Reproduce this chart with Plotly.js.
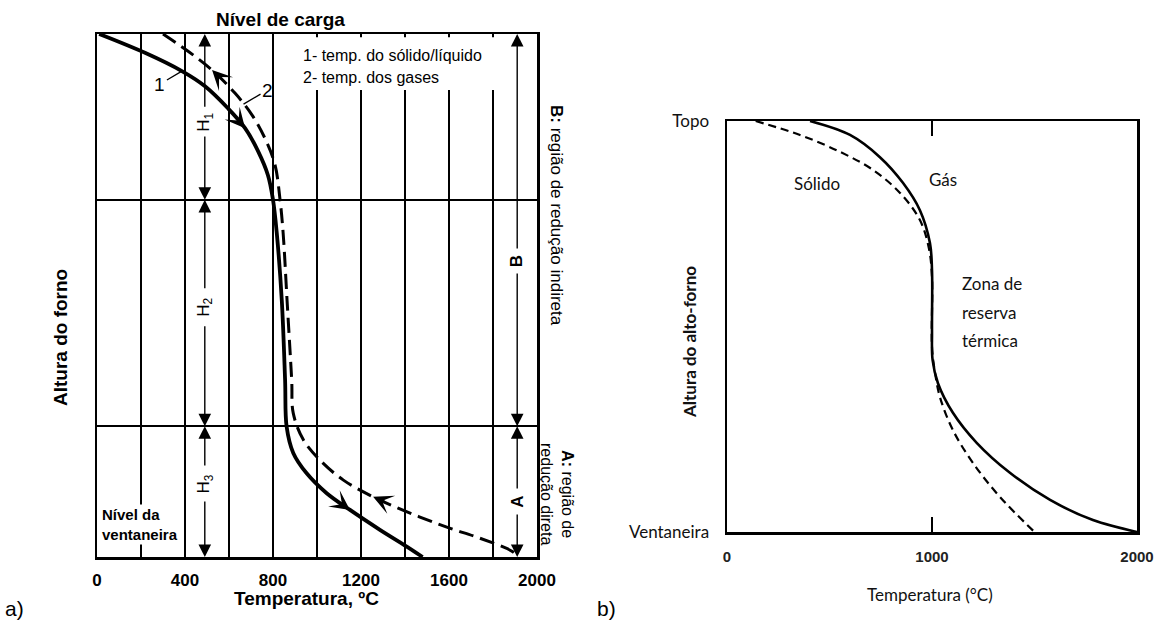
<!DOCTYPE html>
<html><head><meta charset="utf-8">
<script src="https://cdn.plot.ly/plotly-3.0.1.min.js"></script>
<style>html,body{margin:0;padding:0;background:#fff}#chart{width:1165px;height:628px}</style>
</head><body><div id="chart"></div>
<script>
// ---------- Panel a) data ----------
const aTempGrid = [0,200,400,600,800,1000,1200,1400,1600,1800,2000];
const aTempLabels = ['0','','400','','800','','1200','','1600','','2000'];
const aZoneBounds = [0.25, 0.683];
// curve 1: temperature of solid/liquid (down the furnace)
const aSolidT = [10,218,386,491,595,673,732,777,800,817,840,855,862,892,953,1044,1150,1286,1408,1480];
const aSolidH = [1.0,0.964,0.929,0.9,0.858,0.82,0.776,0.73,0.683,0.62,0.49,0.338,0.249,0.199,0.16,0.122,0.09,0.052,0.02,0.0];
// curve 2: temperature of gases (up the furnace)
const aGasT = [300,414,523,627,705,764,809,832,846,864,885,892,938,1014,1120,1255,1423,1590,1740,1890,1910];
const aGasH = [1.0,0.967,0.931,0.887,0.845,0.80,0.75,0.683,0.62,0.49,0.338,0.275,0.224,0.185,0.147,0.115,0.084,0.057,0.036,0.01,0.0];
const aSolidArrowIdx = [5,16];
const aGasArrowIdx = [2,15];

// ---------- Panel b) data ----------
const bTempTicks = [0,1000,2000];
const bHeightTicks = [0,1];
const bHeightLabels = ['Ventaneira','Topo'];
const bGasT = [405,600,746,859,941,990,1000,1000,1003,1029,1102,1218,1380,1576,1785,2000];
const bGasH = [1.0,0.966,0.912,0.849,0.783,0.703,0.637,0.49,0.418,0.362,0.29,0.217,0.144,0.078,0.029,0.0];
const bSolidT = [140,356,551,712,844,941,985,1000,1000,1015,1039,1102,1200,1332,1500];
const bSolidH = [1.0,0.966,0.925,0.881,0.825,0.759,0.69,0.62,0.45,0.387,0.328,0.248,0.168,0.085,0.0];

// ---------- layout helpers ----------
const W = 1165, H = 628;
const FA = 'Liberation Sans, Arial, sans-serif';
const FB = 'Lato, Open Sans, sans-serif';
function P(px, py){ return {xref:'paper', yref:'paper', x:px/W, y:1-py/H}; }
function txt(px, py, text, font, extra){
  return Object.assign(P(px,py), {text:text, showarrow:false, font:font, xanchor:'center', yanchor:'middle'}, extra||{});
}

const traces = [
  {x:aSolidT, y:aSolidH, xaxis:'x', yaxis:'y', mode:'lines', line:{color:'#000', width:3.8, shape:'spline'}, hoverinfo:'skip', showlegend:false},
  {x:aGasT, y:aGasH, xaxis:'x', yaxis:'y', mode:'lines', line:{color:'#000', width:3, dash:'15px,7px', shape:'spline'}, hoverinfo:'skip', showlegend:false},
  {x:bSolidT, y:bSolidH, xaxis:'x2', yaxis:'y2', mode:'lines', line:{color:'#000', width:2.2, dash:'8px,5px', shape:'spline'}, hoverinfo:'skip', showlegend:false},
  {x:bGasT, y:bGasH, xaxis:'x2', yaxis:'y2', mode:'lines', line:{color:'#000', width:2.6, shape:'spline'}, hoverinfo:'skip', showlegend:false}
];

const ann = [];
const fA = s => ({family:FA, size:s, color:'#000'});
const fAb = s => ({family:FA, size:s, color:'#000', weight:700});
const fB = s => ({family:FB, size:s, color:'#111'});

// panel a texts
ann.push(txt(280, 19, 'Nível de carga', fAb(19)));
ann.push(txt(301, 55, '1- temp. do sólido/líquido', fA(16), {xanchor:'left'}));
ann.push(txt(301, 77, '2- temp. dos gases', fA(16), {xanchor:'left'}));
ann.push(txt(60, 338, 'Altura do forno', fAb(19), {textangle:-90}));
ann.push(txt(306, 598, 'Temperatura, ºC', fAb(19)));
ann.push(txt(100, 524, 'Nível da<br>ventaneira', fAb(15), {xanchor:'left', align:'left', bgcolor:'#fff', borderpad:1}));
ann.push(txt(557, 215, '<b>B:</b> região de redução indireta', fA(17), {textangle:90}));
ann.push(txt(557, 494, '<b>A:</b> região de<br>redução direta', fA(16), {textangle:90}));
ann.push(txt(14, 608, 'a)', fA(21)));
ann.push(txt(606, 608, 'b)', fA(21)));

// curve number labels with leader lines
ann.push({xref:'x', yref:'y', x:aSolidT[2], y:aSolidH[2], ax:-22, ay:13, text:'1', showarrow:true, arrowhead:0, arrowwidth:1.3, arrowcolor:'#000', font:fA(19)});
ann.push({xref:'x', yref:'y', x:(aGasT[3]+aGasT[4])/2, y:(aGasH[3]+aGasH[4])/2, ax:24, ay:-14, text:'2', showarrow:true, arrowhead:0, arrowwidth:1.3, arrowcolor:'#000', font:fA(19)});

// direction arrows on the curves
aSolidArrowIdx.forEach(i => {
  const f = 0.4;
  ann.push({xref:'x', yref:'y', axref:'x', ayref:'y', x:aSolidT[i], y:aSolidH[i],
    ax:aSolidT[i] + f*(aSolidT[i-1]-aSolidT[i]), ay:aSolidH[i] + f*(aSolidH[i-1]-aSolidH[i]),
    text:'', showarrow:true, arrowhead:3, arrowsize:1.5, arrowwidth:2.2, arrowcolor:'#000'});
});
aGasArrowIdx.forEach(i => {
  const f = 0.35;
  ann.push({xref:'x', yref:'y', axref:'x', ayref:'y', x:aGasT[i], y:aGasH[i],
    ax:aGasT[i] + f*(aGasT[i+1]-aGasT[i]), ay:aGasH[i] + f*(aGasH[i+1]-aGasH[i]),
    text:'', showarrow:true, arrowhead:3, arrowsize:1.5, arrowwidth:2.2, arrowcolor:'#000'});
});

// zone dimension arrows (H1, H2, H3 at 490 ºC; B, A at 1910 ºC)
function dimArrow(xv, yTop, yBot, gapTop, gapBot, label, yLabel, bold){
  const common = {xref:'x', yref:'y', axref:'x', ayref:'y', text:'', showarrow:true, arrowhead:2, arrowsize:1.8, arrowwidth:1.4, arrowcolor:'#000'};
  ann.push(Object.assign({}, common, {x:xv, y:yTop, ax:xv, ay:gapTop}));
  ann.push(Object.assign({}, common, {x:xv, y:yBot, ax:xv, ay:gapBot}));
  ann.push({xref:'x', yref:'y', x:xv, y:yLabel, text:label, showarrow:false, textangle:-90, xanchor:'center', yanchor:'middle', font: bold ? fAb(17) : fA(17)});
}
const zoneTop = 1, zoneBot = 0;
dimArrow(490, zoneTop, aZoneBounds[1], 0.858, 0.807, 'H<sub>1</sub>', 0.832);
dimArrow(490, aZoneBounds[1], aZoneBounds[0], 0.511, 0.444, 'H<sub>2</sub>', 0.478);
dimArrow(490, aZoneBounds[0], zoneBot, 0.172, 0.109, 'H<sub>3</sub>', 0.14);
dimArrow(1910, zoneTop, aZoneBounds[0], 0.587, 0.545, 'B', 0.566, true);
dimArrow(1910, aZoneBounds[0], zoneBot, 0.128, 0.084, 'A', 0.106, true);

// panel b texts
ann.push(txt(817, 183, 'Sólido', fB(17)));
ann.push(txt(943, 180, 'Gás', fB(17)));
ann.push(txt(960, 283, 'Zona de', fB(17), {xanchor:'left'}));
ann.push(txt(960, 312, 'reserva', fB(17), {xanchor:'left'}));
ann.push(txt(960, 340, 'térmica', fB(17), {xanchor:'left'}));
ann.push(txt(689, 342, 'Altura do alto-forno', {family:FB, size:17, color:'#111', weight:700}, {textangle:-90}));
ann.push(txt(930, 594, 'Temperatura (°C)', fB(17)));

const layout = {
  width: W, height: H,
  margin: {l:0, r:0, t:0, b:0, pad:0},
  paper_bgcolor:'#fff', plot_bgcolor:'#fff',
  showlegend:false,
  xaxis: {domain:[97/W, 537/W], range:[0,2000], tickvals:aTempGrid, ticktext:aTempLabels,
    showgrid:true, gridcolor:'#000', gridwidth:1.6, zeroline:false,
    showline:true, mirror:true, linecolor:'#000', linewidth:2.5, ticks:'',
    tickfont:{family:FA, size:17, color:'#000', weight:700}, ticklabelstandoff:6, anchor:'y', fixedrange:true},
  yaxis: {domain:[(H-557)/H, (H-34)/H], range:[0,1], tickvals:aZoneBounds, showticklabels:false,
    showgrid:true, gridcolor:'#000', gridwidth:1.6, zeroline:false,
    showline:true, mirror:true, linecolor:'#000', linewidth:2.5, ticks:'', anchor:'x', fixedrange:true},
  xaxis2: {domain:[727/W, 1137/W], range:[0,2000], tickvals:bTempTicks,
    showgrid:false, zeroline:false, showline:true, mirror:'ticks', linecolor:'#000', linewidth:2.5,
    ticks:'inside', ticklen:15, tickwidth:1.6, tickcolor:'#000',
    tickfont:{family:'Liberation Sans Narrow, Arial Narrow, Liberation Sans, Arial, sans-serif', size:15, color:'#222', weight:700},
    ticklabelstandoff:9, anchor:'y2', fixedrange:true},
  yaxis2: {domain:[(H-532)/H, (H-121)/H], range:[0,1], tickvals:bHeightTicks, ticktext:bHeightLabels,
    showgrid:false, zeroline:false, showline:true, mirror:true, linecolor:'#000', linewidth:2.5, ticks:'',
    tickfont:{family:FB, size:17, color:'#111'}, ticklabelstandoff:12, anchor:'x2', fixedrange:true},
  shapes: [
    {type:'rect', xref:'x', yref:'y', x0:880, x1:1850, y0:0.893, y1:0.994, fillcolor:'#fff', line:{width:0}, layer:'above'}
  ],
  annotations: ann
};

Plotly.newPlot('chart', traces, layout, {displayModeBar:false, staticPlot:true});
</script></body></html>
